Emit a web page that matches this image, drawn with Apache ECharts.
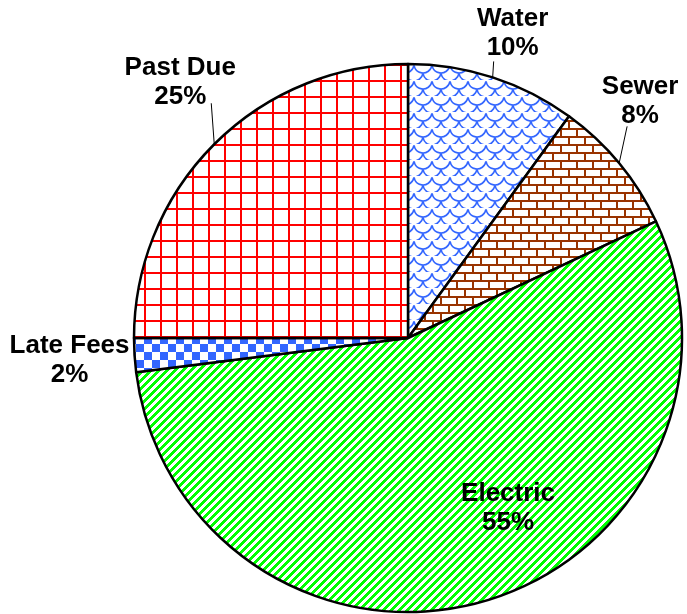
<!DOCTYPE html>
<html>
<head>
<meta charset="utf-8">
<script src="https://cdn.jsdelivr.net/npm/echarts@6/dist/echarts.min.js"></script>
<style>
html,body{margin:0;padding:0;background:#fff;}
#c{width:687px;height:614px;}
</style>
</head>
<body>
<div id="c"></div>
<script>
// ---- data ----
const categories = ['Water', 'Sewer', 'Electric', 'Late Fees', 'Past Due'];
const values = [10, 8, 55, 2, 25];

// ---- patterns (style) ----
function tile(w, h, draw) {
  const c = document.createElement('canvas');
  c.width = w; c.height = h;
  const g = c.getContext('2d');
  g.fillStyle = '#fff'; g.fillRect(0, 0, w, h);
  draw(g);
  return c;
}
const waterTile = tile(18, 16, g => {
  g.strokeStyle = '#3366ff'; g.lineWidth = 1.6;
  g.beginPath(); g.arc(9, 0, 9, 0.15, Math.PI - 0.15); g.stroke();
  g.beginPath(); g.arc(0, 8, 9, 0.15, Math.PI - 0.15); g.stroke();
  g.beginPath(); g.arc(18, 8, 9, 0.15, Math.PI - 0.15); g.stroke();
  g.beginPath(); g.arc(9, 16, 9, 0.15, Math.PI - 0.15); g.stroke();
});
const sewerTile = tile(16, 16, g => {
  g.fillStyle = '#993300';
  g.fillRect(0, 0, 16, 2); g.fillRect(0, 8, 16, 2);
  g.fillRect(0, 0, 2, 8); g.fillRect(8, 8, 2, 8);
});
const electricTile = tile(8, 8, g => {
  g.fillStyle = '#00ff00';
  for (let y = 0; y < 8; y++) for (let k = 0; k < 4; k++) g.fillRect((7 - y + k + 8) % 8, y, 1, 1);
});
const lateTile = tile(16, 16, g => {
  g.fillStyle = '#3366ff';
  g.fillRect(0, 0, 8, 8); g.fillRect(8, 8, 8, 8);
});
const pastTile = tile(16, 16, g => {
  g.fillStyle = '#ff0000';
  g.fillRect(0, 0, 16, 2); g.fillRect(0, 0, 2, 16);
});
const fills = [waterTile, sewerTile, electricTile, lateTile, pastTile];

// label placement relative to the slice's edge anchor: [labelDx, labelDy, lineDx, lineDy]
const labelOffsets = [[20, -44, 1, -16], [21, -62, 8, -37], null, [-65, 5, 0, 0], [-34, -62, -3, -41]];
// nudge for the inside label
const innerShift = [61, 36];

const chart = echarts.init(document.getElementById('c'), null, {renderer: 'canvas'});
chart.setOption({
  backgroundColor: '#fff',
  animation: false,
  series: [{
    type: 'pie',
    center: [408, 338],
    radius: 274,
    startAngle: 90,
    clockwise: true,
    percentPrecision: 0,
    avoidLabelOverlap: false,
    itemStyle: {borderColor: '#000', borderWidth: 2.5},
    emphasis: {disabled: true},
    label: {
      show: true,
      position: 'outside',
      formatter: '{b}\n{d}%',
      fontFamily: 'Liberation Sans, Arial, sans-serif',
      fontWeight: 'bold',
      fontSize: 26,
      lineHeight: 29,
      color: '#000',
      align: 'center'
    },
    labelLine: {show: true, length: 10, length2: 0, lineStyle: {color: '#000', width: 1}},
    labelLayout: function (p) {
      const o = labelOffsets[p.dataIndex];
      if (!o) return {dx: innerShift[0], dy: innerShift[1]};
      if (!p.labelLinePoints) return {};
      const a = p.labelLinePoints[0];
      return {
        x: a[0] + o[0], y: a[1] + o[1],
        align: 'center', verticalAlign: 'middle',
        labelLinePoints: [[a[0], a[1]], [a[0] + o[2], a[1] + o[3]]]
      };
    },
    data: categories.map((name, i) => {
      const d = {name: name, value: values[i], itemStyle: {color: {image: fills[i], repeat: 'repeat'}}};
      if (name === 'Electric') {
        d.label = {position: 'inner'};
        d.labelLine = {show: false};
      }
      return d;
    })
  }]
});
</script>
</body>
</html>
